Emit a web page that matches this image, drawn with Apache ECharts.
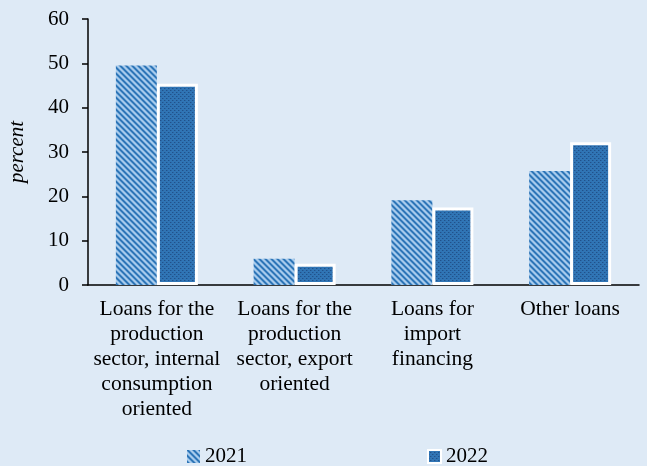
<!DOCTYPE html>
<html>
<head>
<meta charset="utf-8">
<script src="https://cdn.jsdelivr.net/npm/echarts@6/dist/echarts.min.js"></script>
<style>
  html, body { margin: 0; padding: 0; background: #deeaf6; }
  #chart { width: 647px; height: 466px; }
</style>
</head>
<body>
<div id="chart"></div>
<script>
// Loan categories and shares (percent) by year
const categories = [
  'Loans for the\nproduction\nsector, internal\nconsumption\noriented',
  'Loans for the\nproduction\nsector, export\noriented',
  'Loans for\nimport\nfinancing',
  'Other loans'
];
const values2021 = [49.5, 5.9, 19.1, 25.7];
const values2022 = [45.4, 4.8, 17.5, 32.2];
const yTicks = { min: 0, max: 60, interval: 10 };

// Diagonal stripe fill for 2021
function stripePattern() {
  const c = document.createElement('canvas');
  const n = 6;
  c.width = n; c.height = n;
  const ctx = c.getContext('2d');
  for (let x = 0; x < n; x++) {
    for (let y = 0; y < n; y++) {
      const d = ((x - y) % n + n) % n;
      ctx.fillStyle = d < 2 ? '#2e75b6' : (d === 2 || d === 5 ? '#6fa6d9' : '#a9cbeb');
      ctx.fillRect(x, y, 1, 1);
    }
  }
  return c;
}

// Dotted dark-blue fill for 2022
function dotPattern() {
  const c = document.createElement('canvas');
  const n = 4;
  c.width = n; c.height = n;
  const ctx = c.getContext('2d');
  ctx.fillStyle = '#3075b5';
  ctx.fillRect(0, 0, n, n);
  ctx.fillStyle = '#21528a';
  ctx.fillRect(0, 0, 1, 1);
  ctx.fillRect(2, 2, 1, 1);
  ctx.fillStyle = '#2a65a5';
  ctx.fillRect(1, 0, 1, 1);
  ctx.fillRect(3, 2, 1, 1);
  return c;
}

const serif = '"Liberation Serif", "DejaVu Serif", serif';
const chart = echarts.init(document.getElementById('chart'));

chart.setOption({
  backgroundColor: '#deeaf6',
  animation: false,
  textStyle: { fontFamily: serif, color: '#000' },
  grid: {
    left: 88, right: 8, top: 19, bottom: 181,
    containLabel: false,
    outerBoundsMode: 'none'
  },
  legend: {
    top: 441,
    left: 182,
    itemGap: 180,
    itemWidth: 13,
    itemHeight: 13,
    icon: 'rect',
    textStyle: { fontFamily: serif, fontSize: 21, color: '#000' },
    data: ['2021', '2022']
  },
  xAxis: {
    type: 'category',
    data: categories,
    axisLine: { lineStyle: { color: '#000', width: 1.5 } },
    axisTick: { show: false },
    axisLabel: {
      interval: 0,
      margin: 12,
      fontFamily: serif,
      fontSize: 21.5,
      lineHeight: 25,
      color: '#000',
      align: 'center'
    }
  },
  yAxis: {
    type: 'value',
    min: yTicks.min,
    max: yTicks.max,
    interval: yTicks.interval,
    name: 'percent',
    nameLocation: 'middle',
    nameGap: 60,
    nameRotate: 90,
    nameTextStyle: { fontFamily: serif, fontSize: 21, fontStyle: 'italic', color: '#000' },
    axisLine: { show: true, lineStyle: { color: '#000', width: 1.5 } },
    axisTick: { show: true, length: 6, lineStyle: { color: '#000', width: 1.5 } },
    axisLabel: { margin: 19, fontFamily: serif, fontSize: 21, color: '#000' },
    splitLine: { show: false }
  },
  series: [
    {
      name: '2021',
      type: 'bar',
      data: values2021,
      barWidth: 41,
      barGap: '0%',
      itemStyle: { color: { image: stripePattern(), repeat: 'repeat' } }
    },
    {
      name: '2022',
      type: 'bar',
      data: values2022,
      barWidth: 41,
      itemStyle: {
        color: { image: dotPattern(), repeat: 'repeat' },
        borderColor: '#ffffff',
        borderWidth: 3
      }
    }
  ]
});
</script>
</body>
</html>
